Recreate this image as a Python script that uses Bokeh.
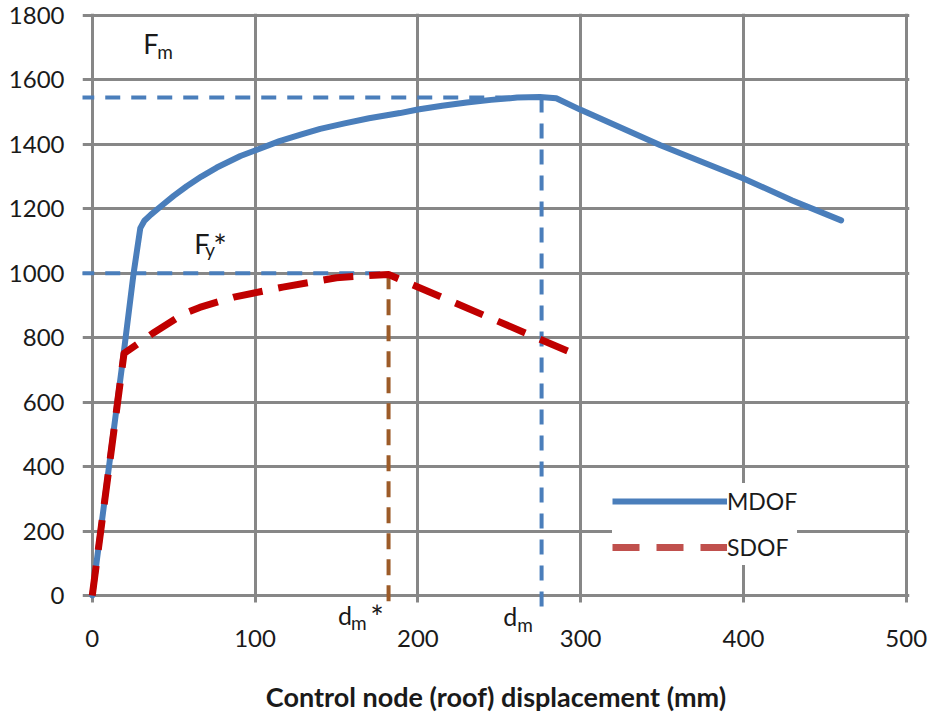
from bokeh.plotting import figure
from bokeh.models import Range1d, FixedTicker, Label, Legend, LegendItem
from bokeh.embed import file_html
from bokeh.resources import INLINE

# ---- data ----
mdof_x = [0, 19, 25.4, 29.5, 32, 36, 42, 50, 58, 67, 76.5, 91, 100, 115, 128,
          140, 155, 170, 189, 200, 215, 230, 245, 261, 275, 285, 300, 349, 400,
          430, 460]
mdof_y = [0, 740, 1000, 1140, 1163, 1182, 1207, 1240, 1270, 1300, 1328, 1364,
          1381, 1410, 1430, 1448, 1465, 1481, 1497, 1508, 1520, 1530, 1538,
          1545, 1547, 1543, 1507, 1397, 1294, 1226, 1164]

sdof_x = [0, 19.5, 37, 56, 66, 87, 117, 150, 167, 182, 296]
sdof_y = [0, 751, 813, 874, 894, 926, 957, 986, 992, 996, 750]

Fm = 1545          # peak force MDOF
dm = 276           # displacement at Fm
Fy_star = 1000     # SDOF yield force
dm_star = 182      # SDOF displacement at peak

x_ticks = [0, 100, 200, 300, 400, 500]
y_ticks = [0, 200, 400, 600, 800, 1000, 1200, 1400, 1600, 1800]

series_names = ["MDOF", "SDOF"]
x_title = "Control node (roof) displacement (mm)"

# ---- styling ----
BLUE = "#4A7EBB"
RED = "#C00000"
RED_LEG = "#C0504D"
BROWN = "#9C5B28"
GRID = "#878787"
FONT = "Lato"
TXT = "#1a1a1a"
NAN = float("nan")

Y_LO, Y_HI = -127.2, 1806
X_LO, X_HI = -6, 502
GRID_LO = -22     # vertical grid lines stop a little below zero (tick stubs)

p = figure(width=932, height=713, frame_width=827, frame_height=623,
           x_range=Range1d(X_LO, X_HI), y_range=Range1d(Y_LO, Y_HI),
           output_backend="svg", toolbar_location=None,
           min_border_left=82, min_border_right=23,
           min_border_top=13, min_border_bottom=77)
p.outline_line_color = None
p.background_fill_color = "white"
p.border_fill_color = "white"

p.xaxis.ticker = FixedTicker(ticks=x_ticks)
p.yaxis.ticker = FixedTicker(ticks=y_ticks)
for ax in (p.xaxis[0], p.yaxis[0]):
    ax.axis_line_color = None
    ax.major_tick_line_color = None
    ax.minor_tick_line_color = None
    ax.major_tick_out = 0
    ax.major_tick_in = 0
    ax.major_label_text_font = FONT
    ax.major_label_text_font_size = "24px"
    ax.major_label_text_color = TXT
p.yaxis.major_label_standoff = 18
p.xaxis.major_label_standoff = -7
p.xaxis.axis_label = x_title
p.xaxis.axis_label_text_font = FONT
p.xaxis.axis_label_text_font_size = "27px"
p.xaxis.axis_label_text_font_style = "bold"
p.xaxis.axis_label_text_color = TXT
p.xaxis.axis_label_standoff = 30

for g in (p.xgrid[0], p.ygrid[0]):
    g.grid_line_color = GRID
    g.grid_line_width = 3
try:
    p.xgrid[0].cross_bounds = (GRID_LO, Y_HI)
except Exception:
    p.xgrid[0].grid_line_color = None
    p.segment(x0=x_ticks, y0=[GRID_LO] * len(x_ticks), x1=x_ticks,
              y1=[Y_HI] * len(x_ticks), line_color=GRID, line_width=3)

# reference dashed lines
p.line(x=[-8, dm], y=[Fm, Fm], line_color=BLUE, line_width=4, line_dash="15 11")
p.line(x=[dm, dm], y=[Fm, -55], line_color=BLUE, line_width=4, line_dash="15 11")
p.line(x=[-8, dm_star], y=[Fy_star, Fy_star], line_color=BLUE, line_width=4,
       line_dash="15 11")
p.line(x=[dm_star, dm_star], y=[Fy_star, -25], line_color=BROWN, line_width=4,
       line_dash="16 10")

# curves
p.line(x=mdof_x, y=mdof_y, line_color=BLUE, line_width=6, line_join="round",
       line_cap="round")
p.line(x=sdof_x, y=sdof_y, line_color=RED, line_width=7, line_dash="30 16",
       line_join="round")

# legend-only renderers (nothing drawn on the plot)
leg_m = p.line(x=[NAN], y=[NAN], line_color=BLUE, line_width=6)
leg_s = p.line(x=[NAN], y=[NAN], line_color=RED_LEG, line_width=7,
               line_dash="27 17")
legend = Legend(items=[LegendItem(label=series_names[0], renderers=[leg_m]),
                       LegendItem(label=series_names[1], renderers=[leg_s])],
                location=(530, 71), orientation="vertical",
                glyph_width=115, glyph_height=36, label_height=36,
                label_standoff=0, spacing=10, padding=10, margin=0,
                border_line_color=None, background_fill_color="white",
                background_fill_alpha=1.0,
                label_text_font=FONT, label_text_font_size="23px",
                label_text_color=TXT)
p.add_layout(legend)

# text annotations (with subscripts)
def lab(x, y, t, size):
    p.add_layout(Label(x=x, y=y, text=t, text_font=FONT,
                       text_font_size=size, text_color=TXT,
                       text_align="left", text_baseline="alphabetic"))

lab(31.3, 1713, "F", "27px")
lab(39.9, 1688, "m", "19px")
lab(62.7, 1092, "F", "27px")
lab(69.4, 1074, "y", "19px")
lab(74.3, 1086, "*", "32px")
lab(151, -59, "d", "25px")
lab(159, -84, "m", "19px")
lab(170.8, -65, "*", "32px")
lab(252.5, -65, "d", "25px")
lab(261, -90, "m", "19px")

open("out.html", "w").write(file_html(p, INLINE))
